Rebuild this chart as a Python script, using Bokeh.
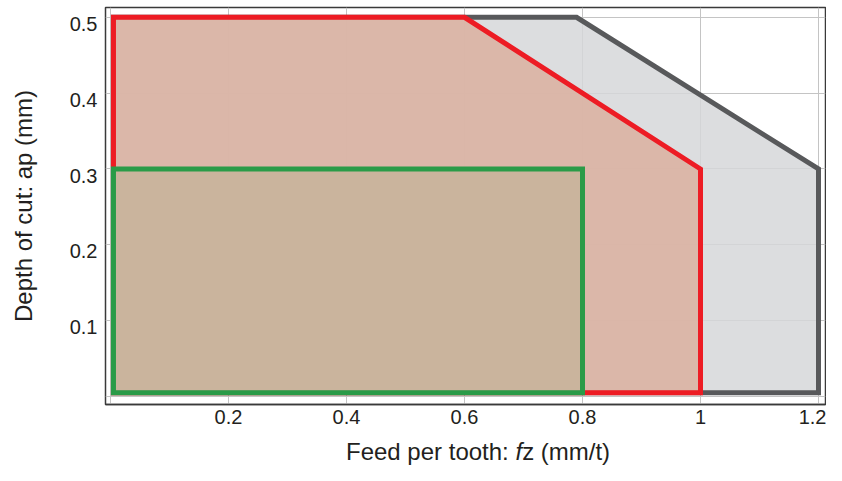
from bokeh.plotting import figure
from bokeh.models import Range1d, FixedTicker, Div
from bokeh.layouts import column
from bokeh.embed import file_html
from bokeh.resources import INLINE

# Data (feed per tooth fz in mm/t, depth of cut ap in mm)
grey_fz = [0.005, 0.005, 0.79, 1.2, 1.2]
grey_ap = [0.005, 0.5, 0.5, 0.3, 0.005]
red_fz = [0.005, 0.005, 0.6, 1.0, 1.0]
red_ap = [0.005, 0.5, 0.5, 0.3, 0.005]
green_fz = [0.005, 0.005, 0.8, 0.8]
green_ap = [0.005, 0.3, 0.3, 0.005]

x_ticks = [0, 0.2, 0.4, 0.6, 0.8, 1.0, 1.2]
x_tick_labels = ["", "0.2", "0.4", "0.6", "0.8", "1", "1.2"]
y_ticks = [0, 0.1, 0.2, 0.3, 0.4, 0.5]
y_tick_labels = ["", "0.1", "0.2", "0.3", "0.4", "0.5"]

x_title_html = "Feed per tooth: <i>f</i>z (mm/t)"
y_title = "Depth of cut: ap (mm)"

FONT = "Liberation Sans"
TEXT = "#231f20"
X0, X1 = -0.0085, 1.2119
Y0, Y1 = -0.0106, 0.513
LABEL_SHIFT = 0.0086  # y tick labels sit just below their gridline, as in the reference

p = figure(width=826, height=438, output_backend="svg", toolbar_location=None,
           x_range=Range1d(X0, X1), y_range=Range1d(Y0, Y1),
           min_border_left=105, min_border_right=1, min_border_top=7, min_border_bottom=34)

p.background_fill_color = "white"
p.border_fill_color = "white"
p.outline_line_color = "#3a3a3a"
p.outline_line_width = 1.5

for g in (p.xgrid, p.ygrid):
    g.grid_line_color = "#c4c4c4"
    g.grid_line_width = 1
p.xgrid.ticker = FixedTicker(ticks=x_ticks)
p.ygrid.ticker = FixedTicker(ticks=y_ticks)

p.xaxis.ticker = FixedTicker(ticks=x_ticks)
p.xaxis.major_label_overrides = dict(zip(x_ticks, x_tick_labels))

y_label_pos = [t - LABEL_SHIFT for t in y_ticks[1:]]
p.yaxis.ticker = FixedTicker(ticks=y_label_pos)
p.yaxis.major_label_overrides = dict(zip(y_label_pos, y_tick_labels[1:]))

for ax in (p.xaxis, p.yaxis):
    ax.axis_line_color = "#3a3a3a"
    ax.axis_line_width = 1.5
    ax.major_tick_line_color = None
    ax.minor_tick_line_color = None
    ax.major_tick_out = 0
    ax.major_tick_in = 0
    ax.minor_tick_out = 0
    ax.minor_tick_in = 0
    ax.major_label_text_font = FONT
    ax.major_label_text_font_size = "20px"
    ax.major_label_text_color = TEXT

p.yaxis.axis_line_color = None
p.xaxis.major_label_standoff = 5
p.yaxis.major_label_standoff = 8

p.yaxis.axis_label = y_title
p.yaxis.axis_label_text_font = FONT
p.yaxis.axis_label_text_font_size = "24px"
p.yaxis.axis_label_text_font_style = "normal"
p.yaxis.axis_label_text_color = TEXT
p.yaxis.axis_label_standoff = 30

# Regions
p.patch(grey_fz, grey_ap, fill_color="#d6d7d9", fill_alpha=0.85,
        line_color="#58595b", line_width=5, line_join="miter")
p.patch(red_fz, red_ap, fill_color="#dbb0a0", fill_alpha=0.85,
        line_color="#ed1c24", line_width=5, line_join="miter")
p.patch(green_fz, green_ap, fill_color="#c7b49b", fill_alpha=0.85,
        line_color="#2a9b48", line_width=5, line_join="miter")

# x-axis title (with italic "f")
title = Div(text=x_title_html, width=480, height=27, margin=(0, 0, 0, 346),
            styles={"font-family": FONT, "font-size": "24px", "color": TEXT,
                    "line-height": "27px", "white-space": "nowrap"})

layout = column(p, title, spacing=0)
open("out.html", "w").write(file_html(layout, INLINE))
